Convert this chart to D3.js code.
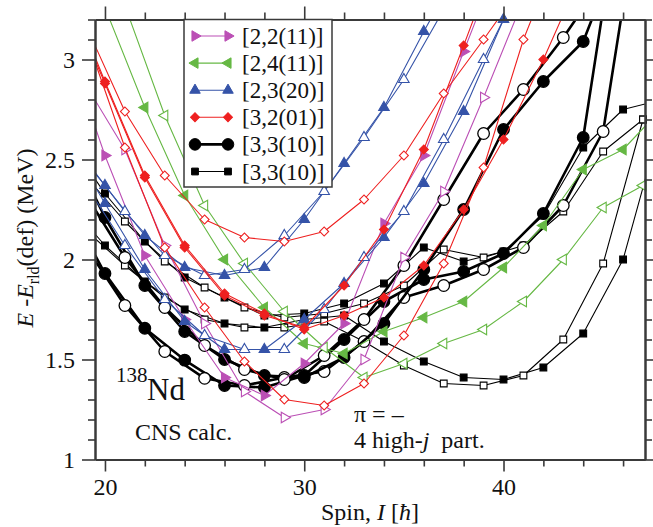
<!DOCTYPE html>
<html><head><meta charset="utf-8">
<script src="https://cdn.jsdelivr.net/npm/d3@7"></script>
<style>
body{margin:0;background:#fff}
svg{display:block}
</style>
</head><body>
<svg id="c" width="653" height="527"></svg>
<script>
// ---------- axes ----------
const spinRange = [19.5, 47.1];
const energyRange = [1, 3.2];
const spinMajorTicks = [20, 30, 40];
const spinMinorTicks = [22, 24, 26, 28, 32, 34, 36, 38, 42, 44, 46];
const energyMajorTicks = [1, 1.5, 2, 2.5, 3];
const energyMinorTicks = [1.1,1.2,1.3,1.4,1.6,1.7,1.8,1.9,2.1,2.2,2.3,2.4,2.6,2.7,2.8,2.9,3.1,3.2];
const legendLabels = ["[2,2(11)]", "[2,4(11)]", "[2,3(20)]", "[3,2(01)]", "[3,3(10)]", "[3,3(10)]"];

// ---------- data: [spin I, E - Erld(def) in MeV] ----------
// [2,2(11)] magenta
const mag22Filled = [[18,3.10],[20,2.52],[22,2.02],[24,1.70],[26,1.41],[28,1.32],[30,1.48],[32,1.68],[34,2.18],[36,2.52],[38,3.04],[40,3.55]];
const mag22Open   = [[19,2.88],[21,2.55],[23,2.07],[25,1.68],[27,1.34],[29,1.21],[31,1.25],[33,1.50],[35,2.01],[37,2.34],[39,2.81],[41,3.30]];
// [2,4(11)] green
const grn24Filled = [[20,3.26],[22,2.76],[24,2.32],[26,2.00],[28,1.76],[30,1.58],[32,1.53],[34,1.64],[36,1.71],[38,1.79],[40,1.96],[42,2.17],[44,2.45],[46,2.55],[48,2.76]];
const grn24Open   = [[21,3.27],[23,2.72],[25,2.27],[27,1.98],[29,1.74],[31,1.56],[33,1.41],[35,1.48],[37,1.58],[39,1.65],[41,1.79],[43,2.00],[45,2.26],[47,2.37]];
// [2,3(20)] blue
const blu23FilledA = [[18,2.62],[20,2.37],[22,2.12],[24,1.96],[26,1.92],[28,1.96],[30,2.20],[32,2.48],[34,2.76],[36,3.14],[38,3.50]];
const blu23OpenA   = [[19,2.50],[21,2.24],[23,2.02],[25,1.92],[27,1.95],[29,2.12],[31,2.34],[33,2.61],[35,2.90],[37,3.25]];
const blu23FilledB = [[18,2.62],[20,2.28],[22,1.95],[24,1.69],[26,1.55],[28,1.55],[30,1.70],[32,1.88],[34,2.11],[36,2.38],[38,2.74],[40,3.20],[42,3.60]];
const blu23OpenB   = [[19,2.38],[21,2.07],[23,1.80],[25,1.62],[27,1.55],[29,1.55],[31,1.75],[33,2.01],[35,2.24],[37,2.60],[39,3.00],[41,3.40]];
// [3,2(01)] red
const red32FilledA = [[18,3.35],[20,2.88],[22,2.41],[24,2.06],[26,1.82],[28,1.72],[30,1.66],[32,1.87],[34,2.15],[36,2.55],[38,3.07],[40,3.60]];
const red32FilledB = [[18,3.38],[20,2.89],[22,2.42],[24,2.07],[26,1.83],[28,1.73],[30,1.65],[32,1.72],[34,1.81],[36,1.97],[38,2.25],[40,2.60],[42,3.00],[44,3.45]];
const red32OpenA   = [[19,3.18],[21,2.74],[23,2.42],[25,2.20],[27,2.11],[29,2.09],[31,2.14],[33,2.30],[35,2.52],[37,2.83],[39,3.10],[41,3.38]];
const red32OpenB   = [[19,3.13],[21,2.56],[23,2.06],[25,1.76],[27,1.49],[29,1.30],[31,1.27],[33,1.38],[35,1.62],[37,1.98],[39,2.46],[41,3.10],[43,3.60]];
// [3,3(10)] circles (thick)
const cir33FilledA = [[18,2.30],[20,1.93],[22,1.656],[24,1.497],[26,1.37],[28,1.36],[30,1.42],[32,1.60],[34,1.79],[36,1.90],[38,1.94],[40,2.03],[42,2.23],[44,2.61],[46,3.90]];
const cir33OpenA   = [[19,2.07],[21,1.77],[23,1.54],[25,1.406],[27,1.37],[29,1.41],[31,1.44],[33,1.59],[35,1.81],[37,1.87],[39,1.95],[41,2.06],[43,2.27],[45,2.64],[47,3.90]];
const cir33FilledB = [[18,2.62],[20,2.21],[22,1.87],[24,1.64],[26,1.50],[28,1.42],[30,1.41],[32,1.51],[34,1.68],[36,1.95],[38,2.25],[40,2.65],[42,2.89],[44,3.09],[46,3.60]];
const cir33OpenB   = [[19,2.33],[21,2.01],[23,1.76],[25,1.57],[27,1.45],[29,1.40],[31,1.52],[33,1.70],[35,1.97],[37,2.30],[39,2.63],[41,2.85],[43,3.11],[45,3.40]];
// [3,3(10)] squares (thin)
const sqr33FilledA = [[18,2.62],[20,2.33],[22,2.09],[24,1.91],[26,1.81],[28,1.72],[30,1.73],[32,1.78],[34,1.88],[36,2.06],[38,1.99],[40,2.04],[42,2.22],[44,2.56],[46,2.75],[48,2.80]];
const sqr33OpenA   = [[19,2.42],[21,2.19],[23,1.99],[25,1.86],[27,1.76],[29,1.71],[31,1.73],[33,1.78],[35,1.87],[37,2.05],[39,2.01],[41,2.07],[43,2.24],[45,2.54],[47,2.70]];
const sqr33FilledB = [[18,2.30],[20,2.07],[22,1.89],[24,1.75],[26,1.68],[28,1.66],[30,1.70],[32,1.72],[34,1.59],[36,1.49],[38,1.41],[40,1.40],[42,1.46],[44,1.63],[46,2.00],[48,2.72]];
const sqr33OpenB   = [[19,2.15],[21,1.97],[23,1.81],[25,1.70],[27,1.66],[29,1.66],[31,1.69],[33,1.59],[35,1.47],[37,1.38],[39,1.37],[41,1.42],[43,1.60],[45,1.98],[47,2.70]];

// ---------- styles ----------
const FONT = '"Liberation Serif", "Times New Roman", Times, "DejaVu Serif", serif';
const MAG = "#bb4fb5", GRN = "#66b844", BLU = "#3553a8", RED = "#ee2020", BLK = "#000";
const styles = {
  mag: {color: MAG, shape: "triR", lw: 1.1, size: 48},
  grn: {color: GRN, shape: "triL", lw: 1.1, size: 48},
  blu: {color: BLU, shape: "triU", lw: 1.1, size: 48},
  red: {color: RED, shape: "diam", lw: 1.1, size: 40},
  cir: {color: BLK, shape: "circ", lw: 2.6, size: 105},
  sqr: {color: BLK, shape: "sqr",  lw: 1.1, size: 46}
};
const series = [
  {d: sqr33FilledA, s: "sqr", f: true}, {d: sqr33OpenA, s: "sqr", f: false},
  {d: sqr33FilledB, s: "sqr", f: true}, {d: sqr33OpenB, s: "sqr", f: false},
  {d: cir33FilledA, s: "cir", f: true}, {d: cir33OpenA, s: "cir", f: false},
  {d: cir33FilledB, s: "cir", f: true}, {d: cir33OpenB, s: "cir", f: false},
  {d: grn24Filled, s: "grn", f: true}, {d: grn24Open, s: "grn", f: false},
  {d: mag22Filled, s: "mag", f: true}, {d: mag22Open, s: "mag", f: false},
  {d: blu23FilledA, s: "blu", f: true}, {d: blu23OpenA, s: "blu", f: false},
  {d: blu23FilledB, s: "blu", f: true}, {d: blu23OpenB, s: "blu", f: false},
  {d: red32FilledA, s: "red", f: true}, {d: red32FilledB, s: "red", f: true},
  {d: red32OpenA, s: "red", f: false}, {d: red32OpenB, s: "red", f: false}
];
const legendStyles = ["mag", "grn", "blu", "red", "cir", "sqr"];

// ---------- drawing ----------
const svg = d3.select("#c");
const L = 95, R = 645, T = 19.5, B = 459.5;
const x = d3.scaleLinear().domain(spinRange).range([L, R]);
const y = d3.scaleLinear().domain(energyRange).range([B, T]);
const AX = "#3a3a3a";

function symPath(shape, size) {
  const map = {triR: d3.symbolTriangle, triL: d3.symbolTriangle, triU: d3.symbolTriangle,
               diam: d3.symbolSquare, circ: d3.symbolCircle, sqr: d3.symbolSquare};
  return d3.symbol().type(map[shape]).size(size)();
}
function symRot(shape) {
  return {triR: 90, triL: -90, triU: 0, diam: 45, circ: 0, sqr: 0}[shape];
}
function txt(sel, px, py, size) {
  return sel.append("text").attr("x", px).attr("y", py).attr("font-size", size)
    .attr("font-family", FONT).attr("fill", "#111");
}

svg.append("defs").append("clipPath").attr("id", "plotclip")
  .append("rect").attr("x", L).attr("y", T).attr("width", R - L).attr("height", B - T);

const plot = svg.append("g");
const line = d3.line().x(d => x(d[0])).y(d => y(d[1]));

series.forEach(sr => {
  const st = styles[sr.s];
  plot.append("path").datum(sr.d)
    .attr("clip-path", "url(#plotclip)")
    .attr("d", line).attr("fill", "none")
    .attr("stroke", st.color).attr("stroke-width", st.lw).attr("stroke-linejoin", "round");
  const pts = sr.d.filter(p => p[0] >= spinRange[0] && p[0] <= spinRange[1] + 0.1 && p[1] >= energyRange[0] && p[1] <= energyRange[1] + 0.02);
  plot.selectAll(null).data(pts).enter().append("path")
    .attr("d", symPath(st.shape, st.size))
    .attr("transform", p => `translate(${x(p[0])},${y(p[1])}) rotate(${symRot(st.shape)})`)
    .attr("fill", sr.f ? st.color : "#fff")
    .attr("stroke", st.color).attr("stroke-width", sr.s === "cir" ? 1.3 : 1.1);
});

// axes
function styleAxis(g) {
  g.attr("font-family", FONT).attr("font-size", 24);
  g.select(".domain").attr("stroke", AX).attr("stroke-width", 2);
  g.selectAll(".tick line").attr("stroke", AX).attr("stroke-width", 1.6);
  g.selectAll(".tick text").attr("fill", "#111").attr("font-family", FONT).attr("font-size", 24);
}
svg.append("g").attr("transform", `translate(0,${B})`)
  .call(d3.axisBottom(x).tickValues(spinMajorTicks).tickSize(12).tickSizeOuter(0).tickPadding(6).tickFormat(d3.format("d"))).call(styleAxis);
svg.append("g").attr("transform", `translate(0,${B})`)
  .call(d3.axisBottom(x).tickValues(spinMinorTicks).tickSize(7).tickSizeOuter(0).tickFormat("")).call(styleAxis);
svg.append("g").attr("transform", `translate(0,${T})`)
  .call(d3.axisTop(x).tickValues(spinMajorTicks).tickSize(13).tickSizeOuter(0).tickFormat("")).call(styleAxis);
svg.append("g").attr("transform", `translate(0,${T})`)
  .call(d3.axisTop(x).tickValues(spinMinorTicks).tickSize(7).tickSizeOuter(0).tickFormat("")).call(styleAxis);
svg.append("g").attr("transform", `translate(${L},0)`)
  .call(d3.axisLeft(y).tickValues(energyMajorTicks).tickSize(13).tickSizeOuter(0).tickPadding(7).tickFormat(d => d3.format("")(d))).call(styleAxis);
svg.append("g").attr("transform", `translate(${L},0)`)
  .call(d3.axisLeft(y).tickValues(energyMinorTicks).tickSize(7).tickSizeOuter(0).tickFormat("")).call(styleAxis);
svg.append("g").attr("transform", `translate(${R},0)`)
  .call(d3.axisRight(y).tickValues(energyMajorTicks).tickSize(12).tickSizeOuter(0).tickFormat("")).call(styleAxis);
svg.append("g").attr("transform", `translate(${R},0)`)
  .call(d3.axisRight(y).tickValues(energyMinorTicks).tickSize(7).tickSizeOuter(0).tickFormat("")).call(styleAxis);

// axis titles
const xt = txt(svg, (L + R) / 2, 520, 24).attr("text-anchor", "middle");
xt.append("tspan").text("Spin, ");
xt.append("tspan").attr("font-style", "italic").text("I");
xt.append("tspan").text(" [");
xt.append("tspan").attr("font-style", "italic").text("ħ");
xt.append("tspan").text("]");

const yt = txt(svg, 0, 0, 24).attr("transform", "translate(33,238) rotate(-90)").attr("text-anchor", "middle");
yt.append("tspan").attr("font-style", "italic").text("E");
yt.append("tspan").text(" -");
yt.append("tspan").attr("font-style", "italic").text("E");
yt.append("tspan").attr("font-size", 16).attr("dy", 6).text("rld");
yt.append("tspan").attr("dy", -6).text("(def) (MeV)");

// annotations
txt(svg, 116, 382, 21).text("138");
txt(svg, 147, 400, 31).text("Nd");
txt(svg, 135, 440, 24).text("CNS calc.");
txt(svg, 354, 422, 24).text("π = –");
const hj = txt(svg, 354, 448, 24);
hj.append("tspan").text("4 high-");
hj.append("tspan").attr("font-style", "italic").text("j");
hj.append("tspan").text("\u00a0 part.");

// legend
const lg = svg.append("g");
lg.append("rect").attr("x", 184).attr("y", T).attr("width", 148).attr("height", 167.5)
  .attr("fill", "#fff").attr("stroke", AX).attr("stroke-width", 1.5);
legendLabels.forEach((lab, i) => {
  const st = styles[legendStyles[i]];
  const ry = 36 + i * 27.1;
  lg.append("line").attr("x1", 195).attr("x2", 228).attr("y1", ry).attr("y2", ry)
    .attr("stroke", st.color).attr("stroke-width", st.lw);
  [195, 228].forEach(px => {
    lg.append("path").attr("d", symPath(st.shape, st.size))
      .attr("transform", `translate(${px},${ry}) rotate(${symRot(st.shape)})`)
      .attr("fill", st.color).attr("stroke", st.color).attr("stroke-width", 1);
  });
  txt(lg, 242, ry + 8, 23).text(lab);
});
</script>
</body></html>
